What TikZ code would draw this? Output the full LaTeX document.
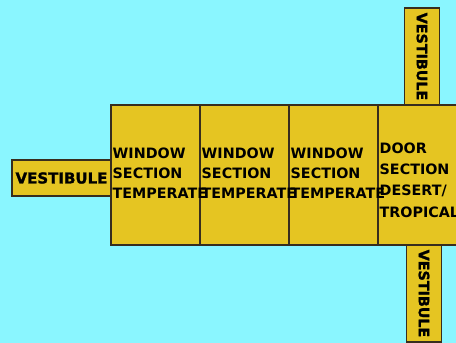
\documentclass[tikz,border=0pt]{standalone}
\usepackage{fontspec}
\setmainfont{DejaVu Sans}
\newfontfamily\heavyfont[FakeBold=1.5]{DejaVu Sans Bold}
\usetikzlibrary{positioning}
\definecolor{skyback}{RGB}{138,246,255}
\definecolor{carbody}{RGB}{229,197,34}
\definecolor{edgeline}{RGB}{55,45,30}

\begin{document}
\begin{tikzpicture}[
      x=1pt, y=-1pt,
      node distance=0pt,
      part/.style={draw=edgeline, fill=carbody, line width=1.6pt, outer sep=0pt},
      sect/.style={part, minimum width=89pt, minimum height=140pt},
      sectxt/.style={anchor=west, align=left, inner xsep=1.5pt,
                     font=\fontsize{14.3}{20.3}\selectfont\bfseries},
      vest/.style={part, minimum width=99pt, minimum height=36pt, inner sep=0pt,
                   font=\fontsize{15}{15}\selectfont\heavyfont},
      vvest/.style={part, rotate=-90, minimum width=97pt, minimum height=35pt,
                    inner sep=0pt, font=\fontsize{14.3}{14}\selectfont\heavyfont},
    ]
    % Background
    \clip (0,0) rectangle (456,343);
    \fill[skyback] (0,0) rectangle (456,343);

    % Car sections
    \node[sect] (win1) at (155.5,175) {};
    \node[sect, right=of win1] (win2) {};
    \node[sect, right=of win2] (win3) {};
    \node[sect, right=of win3, minimum width=100pt] (door) {};

    % Vestibules
    \node[vest, left=of win1, yshift=-3pt] (vleft) {VESTIBULE};
    \node[vvest, anchor=east] (vtop) at (422,105) {VESTIBULE};
    \node[vvest, anchor=west] (vbot) at (424,245) {VESTIBULE};

    % Section labels (drawn last, they run over the partitions)
    \node[sectxt, yshift=2pt] (lab1) at (win1.west) {WINDOW\\SECTION\\TEMPERATE};
    \node[sectxt, yshift=2pt] (lab2) at (win2.west) {WINDOW\\SECTION\\TEMPERATE};
    \node[sectxt, yshift=2pt] (lab3) at (win3.west) {WINDOW\\SECTION\\TEMPERATE};
    \node[sectxt, yshift=-5pt, font=\fontsize{14.3}{21.2}\selectfont\bfseries]
      (lab4) at (door.west) {DOOR\\SECTION\\DESERT/\\TROPICAL};
  \end{tikzpicture}
\end{document}
